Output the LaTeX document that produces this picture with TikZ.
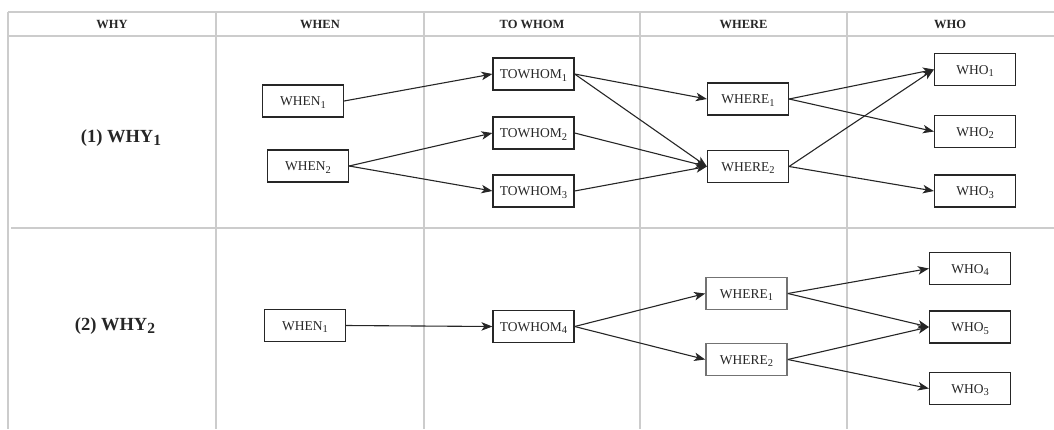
\documentclass[tikz,border=0pt]{standalone}
\usepackage{fontspec}
\setmainfont{Liberation Serif}
\usetikzlibrary{arrows.meta}
\newcommand{\sbs}[1]{\raisebox{-0.45ex}{\fontsize{10.5}{10.5}\selectfont #1}}
\begin{document}
\begin{tikzpicture}[x=1pt,y=-1pt,
  grid/.style={draw=black!20,line width=1.3pt},
  box/.style={draw=black!85,line width=1.2pt,minimum width=81pt,minimum height=32pt,inner sep=0pt,text height=9pt,text depth=0pt,font=\fontsize{13.5}{13.5}\selectfont,text=black!85},
  graybox/.style={box,draw=black!55,line width=1.6pt},
  hdr/.style={font=\fontsize{12.5}{12.5}\selectfont\bfseries,text=black!85},
  why/.style={font=\fontsize{18.5}{18.5}\selectfont\bfseries,text=black!85},
  arr/.style={-{Stealth[length=11pt,width=8.5pt,inset=3pt]},line width=1.1pt,draw=black!85}]
\useasboundingbox (0,0) rectangle (1054,429);
% grid
\draw[grid] (8,12) -- (1054,12);
\draw[grid] (8,36) -- (1054,36);
\draw[grid] (11,228) -- (1054,228);
\draw[grid] (8,12) -- (8,429);
\draw[grid] (216,12) -- (216,429);
\draw[grid] (424,12) -- (424,429);
\draw[grid] (640,12) -- (640,429);
\draw[grid] (847,12) -- (847,429);
% headers
\node[hdr] (hwhy) at (112,24) {WHY};
\node[hdr] (hwhen) at (320,24) {WHEN};
\node[hdr] (hwhom) at (532,24) {TO WHOM};
\node[hdr] (hwhere) at (743.5,24) {WHERE};
\node[hdr] (hwho) at (950,24) {WHO};
% row labels
\node[why] (why1) at (121,138) {(1) WHY\raisebox{-0.35ex}{\fontsize{15.5}{15.5}\selectfont 1}};
\node[why] (why2) at (115,326) {(2) WHY\raisebox{-0.35ex}{\fontsize{15.5}{15.5}\selectfont 2}};
% row 1
\node[box] (a1) at (303,101) {WHEN\sbs{1}};
\node[box] (a2) at (308,166) {WHEN\sbs{2}};
\node[box] (b1) at (533.5,74) {TOWHOM\sbs{1}};
\node[box] (b2) at (533.5,133) {TOWHOM\sbs{2}};
\node[box] (b3) at (533.5,191) {TOWHOM\sbs{3}};
\node[box] (c1) at (748,99) {WHERE\sbs{1}};
\node[box] (c2) at (748,166.5) {WHERE\sbs{2}};
\node[box] (d1) at (975,69.5) {WHO\sbs{1}};
\node[box] (d2) at (975,131.5) {WHO\sbs{2}};
\node[box] (d3) at (975,191) {WHO\sbs{3}};
\draw[arr] (a1.east) -- (b1.west);
\draw[arr] (a2.east) -- (b2.west);
\draw[arr] (a2.east) -- (b3.west);
\draw[arr] (b1.east) -- (c1.west);
\draw[arr] (b1.east) -- (c2.west);
\draw[arr] (b2.east) -- (c2.west);
\draw[arr] (b3.east) -- (c2.west);
\draw[arr] (c1.east) -- (d1.west);
\draw[arr] (c1.east) -- (d2.west);
\draw[arr] (c2.east) -- (d1.west);
\draw[arr] (c2.east) -- (d3.west);
% row 2
\node[box] (e1) at (305,325.5) {WHEN\sbs{1}};
\node[box] (f4) at (533.5,326.5) {TOWHOM\sbs{4}};
\node[graybox] (g1) at (746.5,293.5) {WHERE\sbs{1}};
\node[graybox] (g2) at (746.5,359.5) {WHERE\sbs{2}};
\node[box] (h4) at (970,268.5) {WHO\sbs{4}};
\node[box] (h5) at (970,327) {WHO\sbs{5}};
\node[box] (h3) at (970,388.5) {WHO\sbs{3}};
\draw[arr] (e1.east) -- (f4.west);
\draw[arr] (f4.east) -- (g1.west);
\draw[arr] (f4.east) -- (g2.west);
\draw[arr] (g1.east) -- (h4.west);
\draw[arr] (g1.east) -- (h5.west);
\draw[arr] (g2.east) -- (h5.west);
\draw[arr] (g2.east) -- (h3.west);
\end{tikzpicture}
\end{document}
